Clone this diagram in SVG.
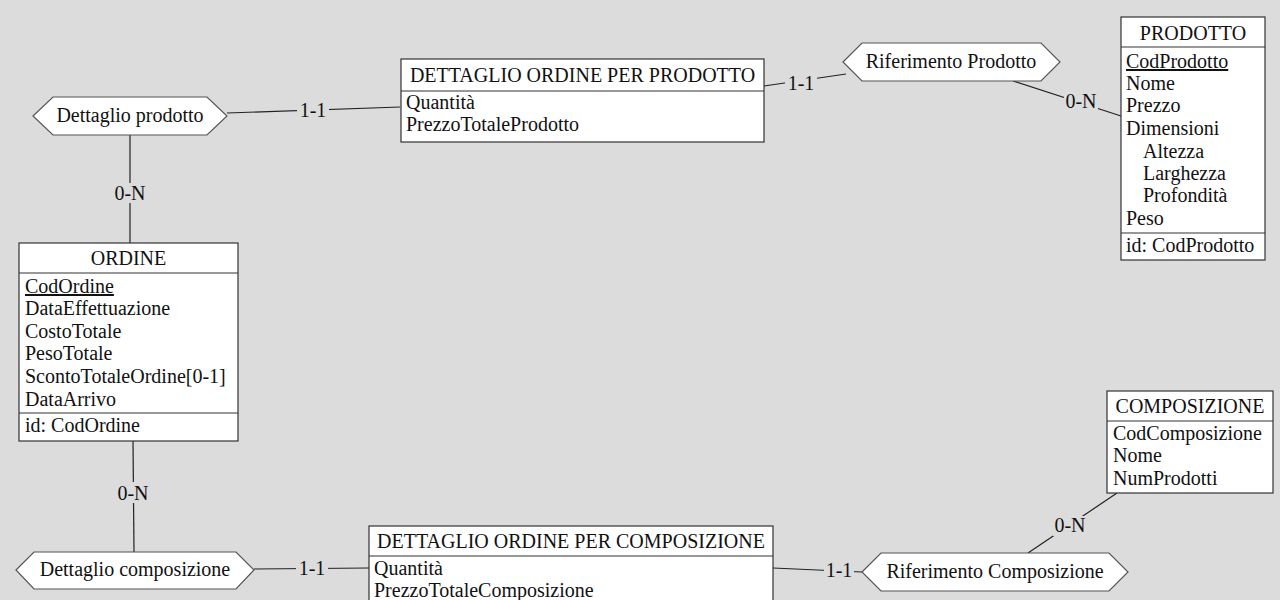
<svg xmlns="http://www.w3.org/2000/svg" width="1280" height="600" viewBox="0 0 1280 600">
<style>
text{font-family:"Liberation Serif","Times New Roman",serif;font-size:20px;fill:#111}
.box{fill:#fff;stroke:#333;stroke-width:1.2}
.sep{stroke:#333;stroke-width:1.2}
.hex{fill:#fff;stroke:#555;stroke-width:1.2}
.c{text-anchor:middle}
.ln{stroke:#222;stroke-width:1.2;fill:none}
.lbg{fill:#dcdcdc}
.u{text-decoration:underline}
</style>
<rect width="1280" height="600" fill="#dcdcdc"/>
<g id="connectors">
<polyline class="ln" points="227,113 400,107"/>
<rect class="lbg" x="297" y="100" width="32" height="18"/><text class="c" x="313" y="117">1-1</text>
<line class="ln" x1="130" y1="135" x2="130" y2="243"/>
<rect class="lbg" x="113" y="183" width="34" height="20"/><text class="c" x="130" y="200">0-N</text>
<line class="ln" x1="764" y1="86" x2="846" y2="74"/>
<rect class="lbg" x="785" y="74" width="32" height="18"/><text class="c" x="801" y="90">1-1</text>
<line class="ln" x1="1013" y1="81" x2="1121" y2="116"/>
<rect class="lbg" x="1064" y="92" width="34" height="19"/><text class="c" x="1081" y="108">0-N</text>
<line class="ln" x1="133" y1="441" x2="134" y2="552"/>
<rect class="lbg" x="116" y="482" width="34" height="21"/><text class="c" x="133" y="500">0-N</text>
<line class="ln" x1="254" y1="569" x2="369" y2="568"/>
<rect class="lbg" x="296" y="559" width="32" height="18"/><text class="c" x="312" y="575">1-1</text>
<line class="ln" x1="773" y1="568" x2="862" y2="572"/>
<rect class="lbg" x="824" y="561" width="30" height="18"/><text class="c" x="839" y="577">1-1</text>
<line class="ln" x1="1028" y1="553" x2="1117" y2="493"/>
<rect class="lbg" x="1053" y="516" width="34" height="20"/><text class="c" x="1070" y="532">0-N</text>
</g>
<g id="dettaglio-prodotto">
<polygon class="hex" points="33,116 53,97 207,97 227,116 207,135 53,135"/>
<text class="c" x="130" y="122">Dettaglio prodotto</text>
</g>
<g id="dettaglio-ordine-prodotto">
<rect class="box" x="401" y="59" width="363" height="83"/>
<line class="sep" x1="401" y1="91" x2="764" y2="91"/>
<text class="c" x="582.5" y="82">DETTAGLIO ORDINE PER PRODOTTO</text>
<text x="406" y="109">Quantità</text>
<text x="406" y="131">PrezzoTotaleProdotto</text>
</g>
<g id="riferimento-prodotto">
<polygon class="hex" points="843,62 862,43 1041,43 1060,62 1041,81 862,81"/>
<text class="c" x="951" y="68">Riferimento Prodotto</text>
</g>
<g id="prodotto">
<rect class="box" x="1121" y="17" width="144" height="243"/>
<line class="sep" x1="1121" y1="47" x2="1265" y2="47"/>
<line class="sep" x1="1121" y1="233" x2="1265" y2="233"/>
<text class="c" x="1193" y="40">PRODOTTO</text>
<text class="u" x="1126" y="68">CodProdotto</text>
<text x="1126" y="90">Nome</text>
<text x="1126" y="112">Prezzo</text>
<text x="1126" y="135">Dimensioni</text>
<text x="1143" y="158">Altezza</text>
<text x="1143" y="180">Larghezza</text>
<text x="1143" y="202">Profondità</text>
<text x="1126" y="225">Peso</text>
<text x="1126" y="252">id: CodProdotto</text>
</g>
<g id="ordine">
<rect class="box" x="19" y="243" width="219" height="198"/>
<line class="sep" x1="19" y1="273" x2="238" y2="273"/>
<line class="sep" x1="19" y1="413" x2="238" y2="413"/>
<text class="c" x="128.5" y="265">ORDINE</text>
<text class="u" x="25" y="293">CodOrdine</text>
<text x="25" y="315">DataEffettuazione</text>
<text x="25" y="338">CostoTotale</text>
<text x="25" y="360">PesoTotale</text>
<text x="25" y="383">ScontoTotaleOrdine[0-1]</text>
<text x="25" y="406">DataArrivo</text>
<text x="25" y="432">id: CodOrdine</text>
</g>
<g id="dettaglio-composizione">
<polygon class="hex" points="16,570 34,552 236,552 254,570 236,589 34,589"/>
<text class="c" x="135" y="576">Dettaglio composizione</text>
</g>
<g id="dettaglio-ordine-composizione">
<rect class="box" x="369" y="526" width="404" height="90"/>
<line class="sep" x1="369" y1="556" x2="773" y2="556"/>
<text class="c" x="571" y="548">DETTAGLIO ORDINE PER COMPOSIZIONE</text>
<text x="374" y="575">Quantità</text>
<text x="374" y="597">PrezzoTotaleComposizione</text>
</g>
<g id="riferimento-composizione">
<polygon class="hex" points="862,572 881,553 1109,553 1128,572 1109,591 881,591"/>
<text class="c" x="995" y="578">Riferimento Composizione</text>
</g>
<g id="composizione">
<rect class="box" x="1107" y="391" width="166" height="102"/>
<line class="sep" x1="1107" y1="421" x2="1273" y2="421"/>
<text class="c" x="1190" y="413">COMPOSIZIONE</text>
<text x="1113" y="440">CodComposizione</text>
<text x="1113" y="462">Nome</text>
<text x="1113" y="485">NumProdotti</text>
</g>
</svg>
